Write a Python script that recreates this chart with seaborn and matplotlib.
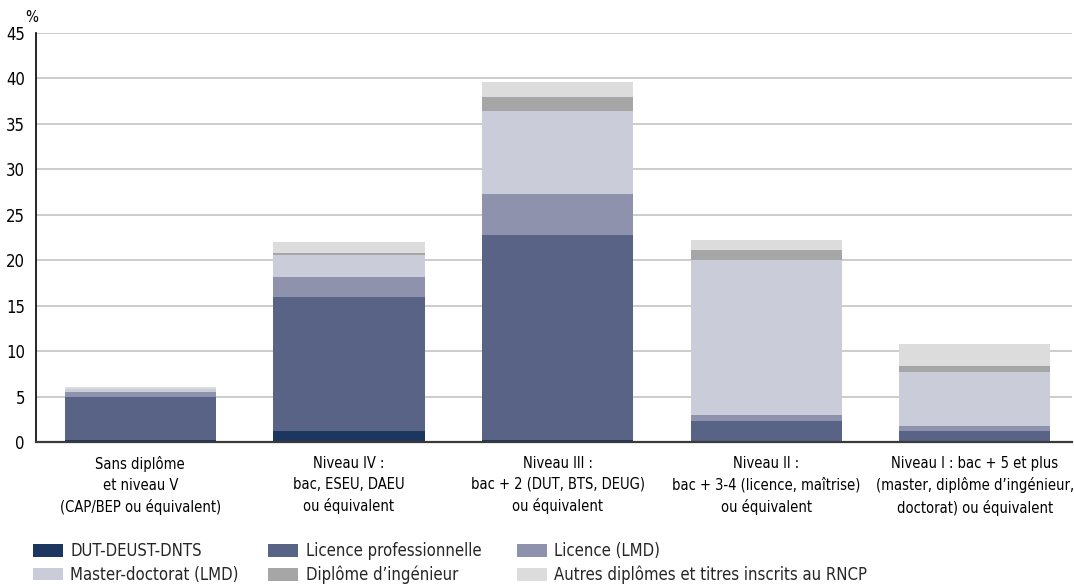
import matplotlib
matplotlib.use("Agg")
import matplotlib.pyplot as plt
from matplotlib.patches import Patch
import numpy as np
import pandas as pd
import seaborn as sns

# Diploma level prepared (categories) and share of apprentices by diploma type (%)
categories = [
    "Sans diplôme\net niveau V\n(CAP/BEP ou équivalent)",
    "Niveau IV :\nbac, ESEU, DAEU\nou équivalent",
    "Niveau III :\nbac + 2 (DUT, BTS, DEUG)\nou équivalent",
    "Niveau II :\nbac + 3-4 (licence, maîtrise)\nou équivalent",
    "Niveau I : bac + 5 et plus\n(master, diplôme d’ingénieur,\ndoctorat) ou équivalent",
]
series_names = [
    "DUT-DEUST-DNTS",
    "Licence professionnelle",
    "Licence (LMD)",
    "Master-doctorat (LMD)",
    "Diplôme d’ingénieur",
    "Autres diplômes et titres inscrits au RNCP",
]
dut = [0.2, 1.2, 0.25, 0.05, 0.0]
licence_pro = [4.75, 14.75, 22.5, 2.25, 1.2]
licence_lmd = [0.55, 2.2, 4.55, 0.65, 0.55]
master_doctorat = [0.3, 2.45, 9.1, 17.05, 5.95]
ingenieur = [0.0, 0.2, 1.55, 1.15, 0.7]
autres = [0.25, 1.15, 1.65, 1.05, 2.4]
yticks = [0, 5, 10, 15, 20, 25, 30, 35, 40, 45]

colors = ["#1b3760", "#586385", "#8e92ad", "#cbccd9", "#a6a6a6", "#dcdcdc"]

sns.set_theme(style="white")
plt.rcParams["font.family"] = ["DejaVu Sans"]
plt.rcParams["font.stretch"] = "condensed"
FS = 10.5

values = np.array([dut, licence_pro, licence_lmd, master_doctorat, ingenieur, autres])
cumul = np.cumsum(values, axis=0)

df = pd.DataFrame(
    [(cat, name, cumul[i, j]) for i, name in enumerate(series_names) for j, cat in enumerate(categories)],
    columns=["niveau", "diplome", "cumul"],
)

fig = plt.figure(figsize=(10.74, 5.84), dpi=100)
ax = fig.add_axes([36 / 1074, 1 - 442 / 584, (1072 - 36) / 1074, (442 - 33) / 584])

# Stacked bars: draw cumulative totals from the top series down
for i in range(len(series_names) - 1, -1, -1):
    sub = df[df["diplome"] == series_names[i]]
    sns.barplot(
        data=sub, x="niveau", y="cumul", order=categories, color=colors[i],
        width=0.725, saturation=1, errorbar=None, linewidth=0, ax=ax,
    )

ax.set_xlim(-0.5, 4.466)
ax.set_ylim(0, 45)
ax.set_yticks(yticks)
ax.set_xlabel("")
ax.set_ylabel("")
ax.yaxis.grid(True, color="#c4c4c4", linewidth=1.2)
ax.xaxis.grid(False)
ax.set_axisbelow(True)

for s in ["top", "right"]:
    ax.spines[s].set_visible(False)
ax.spines["left"].set_color("#000000")
ax.spines["left"].set_linewidth(1.2)
ax.spines["bottom"].set_color("#3a3a3a")
ax.spines["bottom"].set_linewidth(1.6)
ax.spines["bottom"].set_zorder(5)

ax.tick_params(axis="y", length=0, pad=8, labelsize=FS + 1.5, labelcolor="#000000")
ax.tick_params(axis="x", which="major", length=0, pad=10, labelsize=FS, labelcolor="#000000")
ax.set_xticks(range(len(categories)))
ax.set_xticklabels(categories, linespacing=1.5)
ax.set_xticks([0.5, 1.5, 2.5, 3.5], minor=True)
ax.tick_params(axis="x", which="minor", length=8, width=1.2, color="#000000", direction="out")

fig.text(32 / 1074, 1 - 17 / 584, "%", ha="center", va="center", fontsize=FS + 0.5, color="#000000")

# Legend: three columns of two entries each
columns = [(33, [0, 3]), (268, [1, 4]), (517, [2, 5])]
for x_px, idx in columns:
    handles = [Patch(facecolor=colors[i], edgecolor="none") for i in idx]
    labels = [series_names[i] for i in idx]
    fig.legend(
        handles, labels, ncol=1, loc="upper left",
        bbox_to_anchor=(x_px / 1074, 1 - 542 / 584), frameon=False,
        fontsize=12, handlelength=1.8, handleheight=0.8, handletextpad=0.45,
        labelspacing=0.35, borderpad=0, borderaxespad=0,
    )

fig.savefig("out.png", dpi=100)
